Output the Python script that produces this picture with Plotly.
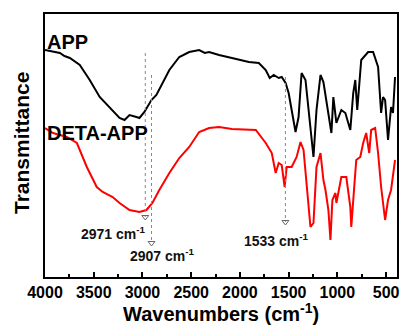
import plotly.graph_objects as go

# APP (black) spectrum: wavenumber (cm-1) and transmittance (arbitrary units)
app_wn = [4000, 3900, 3847, 3800, 3745, 3643, 3541, 3439, 3337, 3235, 3184, 3133, 3061, 3031, 2980, 2908, 2857,
          2796, 2724, 2622, 2520, 2418, 2360, 2316, 2214, 2082, 1908, 1806, 1735, 1694, 1653, 1602, 1571,
          1531, 1500, 1469, 1429, 1398, 1367, 1327, 1276, 1245, 1214, 1173, 1143, 1092, 1061, 1041,
          1010, 959, 918, 867, 837, 816, 796, 755, 684, 633, 582, 551, 531, 510, 480, 449, 429, 408]
app_t = [250, 248, 247, 244, 242, 235, 220, 203, 192, 182, 180, 185, 183, 182, 188, 200, 205,
         217, 230, 243, 248, 250, 247, 248, 245, 242, 238, 237, 230, 222, 225, 222, 223,
         217, 207, 190, 168, 183, 227, 220, 173, 143, 190, 225, 218, 183, 167, 203,
         177, 190, 187, 170, 207, 220, 190, 240, 248, 248, 233, 187, 203, 200, 160, 193, 187, 223]

# DETA-APP (red) spectrum
deta_wn = [4000, 3918, 3776, 3673, 3571, 3469, 3408, 3306, 3235, 3133, 3031, 2959, 2898, 2827, 2724,
           2622, 2520, 2418, 2316, 2214, 2082, 1837, 1735, 1673, 1633, 1602, 1571, 1541, 1520, 1469,
           1418, 1378, 1347, 1316, 1276, 1245, 1214, 1173, 1143, 1122, 1092, 1071, 1051, 1020, 1010,
           959, 908, 867, 857, 827, 806, 765, 735, 704, 673, 653, 612, 582, 551, 510, 480, 449, 408]
deta_t = [172, 167, 163, 157, 133, 113, 108, 103, 97, 90, 88, 90, 97, 110, 127,
          142, 153, 168, 172, 173, 171, 170, 157, 147, 127, 137, 135, 113, 133, 133,
          143, 158, 150, 113, 73, 77, 133, 147, 120, 110, 90, 60, 100, 107, 97,
          123, 123, 93, 73, 113, 140, 143, 157, 167, 147, 170, 172, 147, 113, 80, 100, 110, 140]

# marked peaks
peak_wn = [2971, 2907, 1533]
peak_top = [247, 225, 223]
peak_bottom = [83, 57, 78]
peak_labels = ["2971 cm<sup>-1</sup>", "2907 cm<sup>-1</sup>", "1533 cm<sup>-1</sup>"]
label_wn = [3300, 2790, 1620]
label_t = [67, 45, 60]

series_names = ["APP", "DETA-APP"]
tick_vals = [4000, 3500, 3000, 2500, 2000, 1500, 1000, 500]

FONT = "Liberation Sans"

fig = go.Figure()
fig.add_trace(go.Scatter(x=app_wn, y=app_t, mode="lines", line=dict(color="black", width=2), name=series_names[0]))
fig.add_trace(go.Scatter(x=deta_wn, y=deta_t, mode="lines", line=dict(color="red", width=2), name=series_names[1]))

for wn, top, bot in zip(peak_wn, peak_top, peak_bottom):
    fig.add_trace(go.Scatter(x=[wn, wn], y=[top, bot], mode="lines",
                             line=dict(color="#888888", width=1, dash="dot")))
    fig.add_trace(go.Scatter(x=[wn], y=[bot], mode="markers",
                             marker=dict(symbol="triangle-down-open", size=6,
                                         color="#666666", line=dict(width=1, color="#666666"))))

for txt, wn, t in zip(peak_labels, label_wn, label_t):
    fig.add_annotation(x=wn, y=t, text=txt, showarrow=False,
                       font=dict(family=FONT, size=14, color="#111111", weight="bold"))

fig.add_annotation(x=4000, y=258, text=series_names[0], showarrow=False, xanchor="left",
                   font=dict(family=FONT, size=20, color="black", weight="bold"))
fig.add_annotation(x=4000, y=167, text=series_names[1], showarrow=False, xanchor="left",
                   font=dict(family=FONT, size=20, color="black", weight="bold"))

fig.add_annotation(xref="paper", yref="paper", x=-0.065, y=0.51, text="Transmittance",
                   textangle=-90, showarrow=False, xanchor="center", yanchor="middle",
                   font=dict(family=FONT, size=21, color="black", weight="bold"))
fig.add_annotation(xref="paper", yref="paper", x=0.5, y=-0.135, text="Wavenumbers (cm<sup>-1</sup>)",
                   showarrow=False, xanchor="center", yanchor="middle",
                   font=dict(family=FONT, size=20, color="black", weight="bold"))

fig.update_layout(
    width=403, height=326,
    margin=dict(l=45, r=4, t=14, b=49),
    paper_bgcolor="white", plot_bgcolor="white",
    showlegend=False,
    xaxis=dict(range=[4000, 388], tickvals=tick_vals, ticks="inside", ticklen=5, tickwidth=1.5,
               tickcolor="black", showline=True, linecolor="black", linewidth=1.5, mirror=True,
               showgrid=False, zeroline=False,
               minor=dict(dtick=250, tick0=0, ticks="inside", ticklen=3, tickcolor="black"),
               tickfont=dict(family=FONT, size=16, color="black", weight="bold")),
    yaxis=dict(range=[23, 286], showticklabels=False, ticks="", showline=True, linecolor="black",
               linewidth=1.5, mirror=True, showgrid=False, zeroline=False),
)

fig.write_html("out.html")
